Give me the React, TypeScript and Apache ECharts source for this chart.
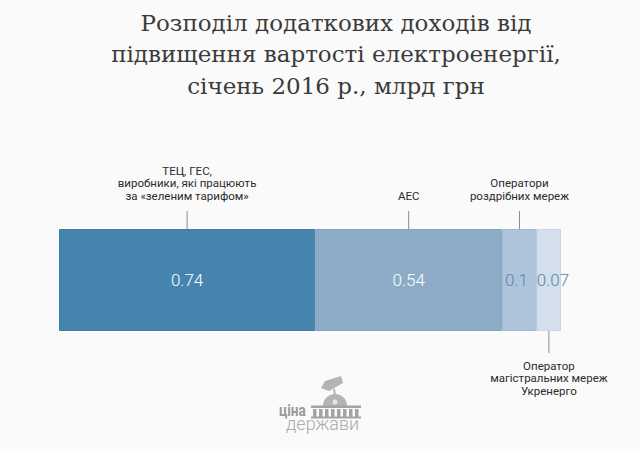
import { useEffect, useRef } from 'react';
import * as echarts from 'echarts';

// chart data
const titleLines = [
  'Розподіл додаткових доходів від',
  'підвищення вартості електроенергії,',
  'січень 2016 р., млрд грн',
];
const categories = ['січень 2016'];
const segmentNames = ['ТЕЦ, ГЕС, виробники', 'АЕС', 'Оператори роздрібних мереж', 'Укренерго'];
const segmentValues = [0.74, 0.54, 0.1, 0.07];
const annotationTexts = [
  'ТЕЦ, ГЕС,\nвиробники, які працюють\nза «зеленим тарифом»',
  'АЕС',
  'Оператори\nроздрібних мереж',
  'Оператор\nмагістральних мереж\nУкренерго',
];
const annotationSides = ['top', 'top', 'top', 'bottom'];
const logoWords = ['ціна', 'держави'];

// styles
const segmentColors = ['#4585ad', '#8dabc6', '#adc4da', '#d3dfea'];
const segmentBorders = ['#3f7ca3', '#84a2be', '#a3bbd2', '#c9d6e3'];
const labelColors = ['#ffffff', '#ffffff', '#5d84a8', '#5d84a8'];
const labelShift = [0, 0, -3, 4];

const total = segmentValues.reduce((a, b) => a + b, 0);
const midpoints = segmentValues.map((v, i) => {
  const before = segmentValues.slice(0, i).reduce((a, b) => a + b, 0);
  return [before + v / 2, 0, i];
});

export default function App() {
  const chartRef = useRef<HTMLDivElement>(null);

  useEffect(() => {
    if (!chartRef.current) return;
    const chart = echarts.init(chartRef.current, undefined, { renderer: 'svg' });

    const logoGrey = '#a3a3a3';
    const columns = Array.from({ length: 8 }, (_, k) => ({
      type: 'rect',
      shape: { x: 313 + k * 6, y: 409, width: 3.5, height: 8 },
      style: { fill: logoGrey },
    }));

    chart.setOption({
      animation: false,
      backgroundColor: '#fafafa',
      grid: { left: 59, right: 79, top: 229, height: 102 },
      xAxis: { type: 'value', min: 0, max: total, show: false },
      yAxis: { type: 'category', data: categories, show: false },
      graphic: [
        {
          type: 'text',
          x: 336,
          y: 7,
          style: {
            text: titleLines.join('\n'),
            align: 'center',
            verticalAlign: 'top',
            font: '23px "DejaVu Serif"',
            lineHeight: 31.5,
            fill: '#3b3b3b',
          },
        },
        // logo
        {
          type: 'group',
          silent: true,
          children: [
            {
              type: 'polygon',
              shape: { points: [[321, 388], [325, 381], [341, 376], [343, 383], [329, 391]] },
              style: { fill: '#b4b4b4' },
            },
            { type: 'line', shape: { x1: 334, y1: 389, x2: 335, y2: 395 }, style: { stroke: '#b4b4b4', lineWidth: 2 } },
            {
              type: 'sector',
              shape: { cx: 335, cy: 406, r0: 0, r: 12, startAngle: Math.PI, endAngle: Math.PI * 2 },
              style: { fill: '#b4b4b4' },
            },
            { type: 'circle', shape: { cx: 335, cy: 402, r: 2.5 }, style: { fill: '#e6e6e6' } },
            { type: 'rect', shape: { x: 311, y: 405.5, width: 50, height: 2.5 }, style: { fill: logoGrey } },
            ...columns,
            { type: 'rect', shape: { x: 311, y: 416.5, width: 50, height: 2 }, style: { fill: logoGrey } },
            {
              type: 'text',
              x: 279,
              y: 419,
              scaleX: 0.8,
              style: { text: logoWords[0], font: 'bold 17px Roboto', fill: '#999999', verticalAlign: 'bottom' },
            },
            {
              type: 'text',
              x: 286,
              y: 414,
              style: { text: logoWords[1], font: '300 18px Roboto', fill: '#ababab', verticalAlign: 'top' },
            },
          ],
        },
      ],
      series: [
        ...segmentValues.map((v, i) => ({
          name: segmentNames[i],
          type: 'bar',
          stack: 'total',
          barWidth: '100%',
          data: [v],
          itemStyle: { color: segmentColors[i], borderColor: segmentBorders[i], borderWidth: 1 },
          label: {
            show: true,
            position: 'inside',
            offset: [labelShift[i], 0],
            formatter: '{c}',
            color: labelColors[i],
            fontFamily: 'Roboto',
            fontWeight: 300,
            fontSize: 17,
          },
        })),
        {
          type: 'custom',
          data: midpoints,
          encode: { x: 0, y: 1 },
          silent: true,
          z: 5,
          renderItem: (_params: any, api: any) => {
            const i = api.value(2);
            const [x, cy] = api.coord([api.value(0), 0]);
            const half = api.size([0, 1])[1] / 2;
            const up = annotationSides[i] === 'top';
            const edge = up ? cy - half : cy + half;
            const end = up ? edge - 18 : edge + 22;
            return {
              type: 'group',
              children: [
                {
                  type: 'line',
                  shape: { x1: x, y1: edge, x2: x, y2: end },
                  style: { stroke: '#8a8a8a', lineWidth: 1 },
                },
                {
                  type: 'text',
                  style: {
                    text: annotationTexts[i],
                    x,
                    y: up ? end - 9 : end + 6.5,
                    align: 'center',
                    verticalAlign: up ? 'bottom' : 'top',
                    font: '11.5px Roboto',
                    lineHeight: 12.6,
                    fill: '#2b2b2b',
                  },
                },
              ],
            };
          },
        },
      ],
    });

    return () => {
      chart.dispose();
    };
  }, []);

  return (
    <div
      ref={chartRef}
      style={{ position: 'fixed', left: 0, top: 0, width: 640, height: 451 }}
    />
  );
}
